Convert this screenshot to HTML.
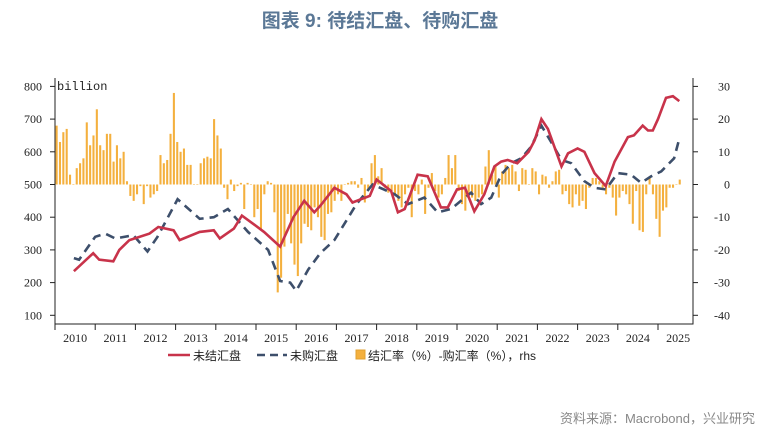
<!DOCTYPE html>
<html><head><meta charset="utf-8">
<style>
body{margin:0;background:#fff;width:761px;height:434px;overflow:hidden;font-family:"Liberation Sans","Noto Sans CJK SC",sans-serif}
</style></head>
<body>
<svg id="c" width="761" height="434" xmlns="http://www.w3.org/2000/svg">
<text x="380" y="27" text-anchor="middle" font-size="19" font-weight="bold" fill="#5b7896" font-family="Liberation Sans,Noto Sans CJK SC,sans-serif">图表 9:  待结汇盘、待购汇盘</text>
<text x="755" y="423" text-anchor="end" font-size="13" fill="#888" font-family="Liberation Sans,Noto Sans CJK SC,sans-serif">资料来源：Macrobond，兴业研究</text>
<g id="plot"></g>
</svg>
<script>
const years=[2010,2011,2012,2013,2014,2015,2016,2017,2018,2019,2020,2021,2022,2023,2024,2025];
const leftTicks=[100,200,300,400,500,600,700,800];
const rightTicks=[-40,-30,-20,-10,0,10,20,30];
const barValues=[18,13,16,17,3,0,5,6.5,8,19,12,15,
23,12,10.5,15.5,15.5,7,12,8,10,1,-3.5,-5,
-3,-0.5,-6,-0.5,-4,-3,-2,9,6.5,7.5,15.5,28,
13,10,11,6,6,0,0,6.5,8,8.5,8,20,
15,11,-1,-4.5,1.5,-2,-0.5,0.5,-7.5,0.5,0,-10,
-7.5,-13.5,-3,1,0.5,-8.5,-33,-28.5,-19,-9,-18,-24.5,
-28,-18,-12,-13,-14,-7,-10,-16,-17,-9,-8.5,-5,
-3,-5,0,0.5,1,1,-1,2,-5.5,-2,6.5,9,
2.5,5,-1,-2.5,-2,-3,-5,-7,-3,-1,-10,-2,
-3,1.5,-9,-1,3.5,-2,-4,-3,2,9,5,9,
-2,-6,-8,-3,-4,-5,-4,-3,5.5,10.5,3,6,
-4,4,6,5,6,4,-2,5,4.5,0,5,4,
-3,3,2.5,-1,1,4,4.5,-3,-2,-6,-7,-3,
-6.5,-5,-7.5,-1,2,2,1,-1,-3,-1,-4,-9.5,
-4,-2,-3,-6,-12,-2,-14,-14.5,-3,2,-3,-10.5,
-16,-8,-7,-1,-1,0,1.5];
const redDates=[2010.47,2010.95,2011.1,2011.45,2011.6,2011.85,2012.35,2012.57,2012.95,2013.1,2013.6,2013.95,2014.1,2014.45,2014.65,2014.95,2015.2,2015.6,2015.93,2016.2,2016.45,2016.6,2016.95,2017.25,2017.4,2017.83,2018.0,2018.11,2018.36,2018.53,2018.7,2019.02,2019.27,2019.6,2019.77,2020.0,2020.2,2020.43,2020.68,2020.93,2021.1,2021.26,2021.5,2021.78,2021.93,2022.1,2022.26,2022.6,2022.76,2023.0,2023.17,2023.42,2023.7,2023.92,2024.25,2024.4,2024.62,2024.75,2024.87,2025.0,2025.2,2025.37,2025.53];
const redValues=[235,290,270,265,300,330,350,370,360,330,355,360,335,365,405,378,355,310,400,450,415,435,490,470,445,465,515,505,480,415,425,530,525,430,430,485,490,418,470,555,570,575,565,600,635,700,670,555,595,610,600,535,495,570,645,650,680,665,665,700,765,770,755];
const blueDates=[2010.47,2010.6,2011.0,2011.25,2011.5,2011.95,2012.3,2012.55,2013.05,2013.6,2013.95,2014.3,2014.8,2015.3,2015.6,2015.85,2016.0,2016.3,2016.6,2016.95,2017.5,2017.9,2018.45,2018.78,2019.19,2019.52,2019.85,2020.1,2020.35,2020.6,2020.85,2021.1,2021.35,2021.6,2021.84,2022.1,2022.34,2022.6,2022.84,2023.17,2023.42,2023.7,2024.0,2024.33,2024.58,2024.83,2025.08,2025.4,2025.53];
const blueValues=[275,270,340,350,335,345,295,340,455,395,400,425,355,300,205,200,175,240,290,330,440,500,470,440,460,415,425,450,475,440,460,530,565,580,615,680,630,575,565,510,490,485,535,530,505,525,540,580,640];

const NS="http://www.w3.org/2000/svg";
const g=document.getElementById('plot');
const X0=55,X1=693,Y0=86,Y1=324,YW=40.2;
const xT=t=>X0+(t-2010)*YW;
const yL=v=>184.5+(500-v)*0.327;
const yR=v=>184.5-v*3.27;
function mk(tag,attrs,parent){const e=document.createElementNS(NS,tag);for(const k in attrs)e.setAttribute(k,attrs[k]);(parent||g).appendChild(e);return e;}

// bars
const bw=YW/12;
barValues.forEach((v,i)=>{
  const x=xT(2010+i/12)+0.6;
  const y=Math.min(yR(v),yR(0)),h=Math.abs(yR(v)-yR(0));
  const r=mk('rect',{x:x,y:y,width:bw*0.62,height:Math.max(h,0.5),fill:'#f4b03e'});
  
  
});
// axes
const ax=mk('path',{d:`M${X0},${Y0-8}V${Y1}H${X1}V${Y0-8}`,stroke:'#222',fill:'none','stroke-width':1});


leftTicks.forEach(v=>{
  mk('line',{x1:X0-5,x2:X0,y1:yL(v),y2:yL(v),stroke:'#222'});
  const t=mk('text',{x:X0-13,y:yL(v)+4,'text-anchor':'end','font-size':12,'font-family':'Liberation Serif,serif',fill:'#222'});
  t.textContent=v;
  
  
});
rightTicks.forEach(v=>{
  mk('line',{x1:X1,x2:X1+5,y1:yR(v),y2:yR(v),stroke:'#222'});
  const t=mk('text',{x:X1+37,y:yR(v)+4,'text-anchor':'end','font-size':12,'font-family':'Liberation Serif,serif',fill:'#222'});
  t.textContent=v;
  
  
});
years.forEach(y=>{
  mk('line',{x1:xT(y),x2:xT(y),y1:Y1,y2:Y1+6,stroke:'#222'});
  const t=mk('text',{x:xT(y)+YW/2,y:Y1+18,'text-anchor':'middle','font-size':12,'font-family':'Liberation Serif,serif',fill:'#222'});
  t.textContent=y;
  
  
});
const ut=mk('text',{x:57,y:90,'font-size':12,'font-family':'Liberation Mono,monospace',fill:'#222'});
ut.textContent='billion';


// lines
const bl=mk('path',{d:blueDates.map((d,i)=>(i?'L':'M')+xT(d).toFixed(1)+','+yL(blueValues[i]).toFixed(1)).join(''),stroke:'#3d4f6b','stroke-width':2.6,fill:'none','stroke-dasharray':'9,6'});


const rl=mk('path',{d:redDates.map((d,i)=>(i?'L':'M')+xT(d).toFixed(1)+','+yL(redValues[i]).toFixed(1)).join(''),stroke:'#c8334a','stroke-width':2.6,fill:'none'});


// legend
const lg=mk('g',{});


mk('line',{x1:168,x2:190,y1:355,y2:355,stroke:'#c8334a','stroke-width':2.6},lg);
const l1=mk('text',{x:193,y:360,'font-size':12,fill:'#222'},lg);l1.textContent='未结汇盘';


mk('line',{x1:257,x2:287,y1:355,y2:355,stroke:'#3d4f6b','stroke-width':2.6,'stroke-dasharray':'8,5'},lg);
const l2=mk('text',{x:290,y:360,'font-size':12,fill:'#222'},lg);l2.textContent='未购汇盘';


mk('rect',{x:356,y:350,width:9,height:9,fill:'#f4b03e',stroke:'#e0a030'},lg);
const l3=mk('text',{x:368,y:360,'font-size':12,fill:'#222'},lg);l3.textContent='结汇率（%）-购汇率（%），rhs';


</script>
</body></html>
